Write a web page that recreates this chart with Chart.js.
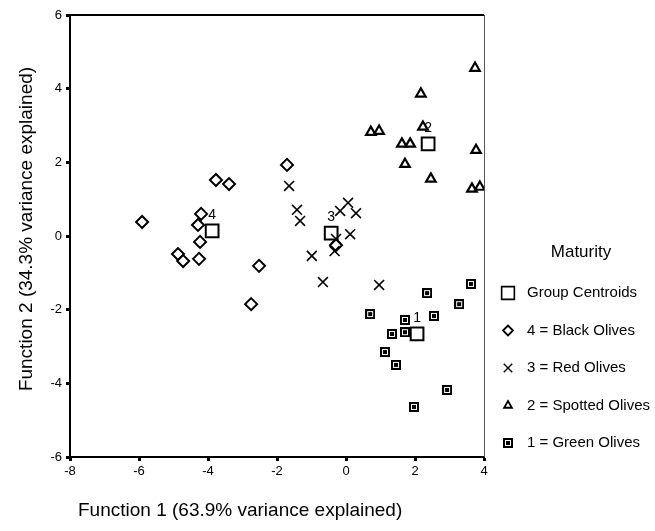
<!DOCTYPE html>
<html>
<head>
<meta charset="utf-8">
<script src="https://cdn.jsdelivr.net/npm/chart.js@4/dist/chart.umd.min.js"></script>
<style>
  body { margin: 0; background: #fff; }
  #wrap { width: 655px; height: 531px; position: relative; }
</style>
</head>
<body>
<div id="wrap"><canvas id="olive-chart"></canvas></div>
<script>
// Discriminant function scores
const greenX = [3.62, 2.35, 3.28, 0.70, 2.55, 1.71, 1.71, 1.33, 1.13, 1.45, 2.93, 1.97]
const greenY = [-1.30, -1.55, -1.85, -2.12, -2.17, -2.28, -2.61, -2.66, -3.15, -3.50, -4.18, -4.64]
const spottedX = [3.74, 2.17, 2.23, 0.72, 0.96, 1.62, 1.86, 3.77, 1.71, 2.46, 3.65, 3.88]
const spottedY = [4.56, 3.86, 2.96, 2.82, 2.85, 2.50, 2.50, 2.33, 1.95, 1.55, 1.28, 1.33]
const redX = [-1.65, -1.42, -1.33, 0.06, -0.17, 0.29, 0.12, -0.29, -0.33, -0.99, -0.67, 0.96]
const redY = [1.36, 0.71, 0.41, 0.90, 0.68, 0.62, 0.05, -0.08, -0.41, -0.54, -1.25, -1.33]
const blackX = [-3.77, -3.39, -4.20, -4.29, -5.91, -4.23, -4.87, -4.72, -4.26, -2.52, -2.75, -1.71, -0.29]
const blackY = [1.52, 1.41, 0.60, 0.30, 0.38, -0.16, -0.49, -0.68, -0.62, -0.81, -1.85, 1.93, -0.25]
const centroidX = [2.06, 2.38, -0.43, -3.88]
const centroidY = [-2.66, 2.50, 0.08, 0.14]
const centroidLabels = ['1', '2', '3', '4']
const legendTitle = 'Maturity'
const legendLabels = ['Group Centroids', '4 = Black Olives', '3 = Red Olives', '2 = Spotted Olives', '1 = Green Olives']

const FONT = "'Liberation Sans', Arial, sans-serif"

const pts = (xs, ys) => xs.map((x, i) => ({ x, y: ys[i] }))

// filled square with a box-x, like the SPSS green marker
function greenMarker() {
  const c = document.createElement('canvas')
  c.width = 10
  c.height = 10
  const g = c.getContext('2d')
  g.fillStyle = '#000'
  g.fillRect(0, 0, 10, 10)
  g.strokeStyle = '#fff'
  g.lineWidth = 1
  g.strokeRect(2.5, 2.5, 5, 5)
  g.strokeStyle = '#000'
  g.beginPath()
  g.moveTo(3, 3); g.lineTo(7, 7)
  g.moveTo(7, 3); g.lineTo(3, 7)
  g.stroke()
  return c
}
const greenImg = greenMarker()

const legendMarks = [
  { pointStyle: 'rect', radius: 9, borderWidth: 1.6, fill: '#fff' },
  { pointStyle: 'rectRot', radius: 5, borderWidth: 1.8, fill: '#fff' },
  { pointStyle: 'crossRot', radius: 6, borderWidth: 1.4, fill: '#fff' },
  { pointStyle: 'triangle', radius: 4.5, borderWidth: 1.8, fill: '#fff' },
  { pointStyle: greenImg, radius: 5, borderWidth: 0, fill: '#000' },
]

const decorations = {
  id: 'decorations',
  afterDraw(chart) {
    const { ctx, chartArea: a, scales } = chart
    ctx.save()
    // top and right frame lines
    ctx.strokeStyle = '#000'
    ctx.lineWidth = 2
    ctx.beginPath()
    ctx.moveTo(a.left, a.top)
    ctx.lineTo(a.right, a.top)
    ctx.stroke()
    ctx.strokeStyle = '#555'
    ctx.lineWidth = 1
    ctx.beginPath()
    ctx.moveTo(a.right + 0.5, a.top)
    ctx.lineTo(a.right + 0.5, a.bottom)
    ctx.stroke()

    // centroid numbers
    ctx.fillStyle = '#000'
    ctx.font = `14px ${FONT}`
    ctx.textAlign = 'center'
    ctx.textBaseline = 'middle'
    centroidLabels.forEach((t, i) => {
      const px = scales.x.getPixelForValue(centroidX[i])
      const py = scales.y.getPixelForValue(centroidY[i])
      ctx.fillText(t, px, py - 16)
    })

    // axis titles
    ctx.font = `19px ${FONT}`
    ctx.textAlign = 'left'
    ctx.fillText('Function 1 (63.9% variance explained)', 78, 511)
    ctx.save()
    ctx.translate(27, 229)
    ctx.rotate(-Math.PI / 2)
    ctx.textAlign = 'center'
    ctx.fillText('Function 2 (34.3% variance explained)', 0, 0)
    ctx.restore()

    // legend
    ctx.font = `17px ${FONT}`
    ctx.textAlign = 'center'
    ctx.fillText(legendTitle, 581, 252)
    ctx.font = `15px ${FONT}`
    ctx.textAlign = 'left'
    legendLabels.forEach((t, i) => {
      const y = 293 + i * 37.5
      const m = legendMarks[i]
      ctx.fillStyle = m.fill
      ctx.strokeStyle = '#000'
      ctx.lineWidth = m.borderWidth
      Chart.helpers.drawPoint(ctx, { pointStyle: m.pointStyle, radius: m.radius, borderWidth: m.borderWidth, rotation: 0 }, 508, y)
      ctx.fillStyle = '#000'
      ctx.fillText(t, 527, y)
    })
    ctx.restore()
  },
}

const ctx = document.getElementById('olive-chart').getContext('2d')

new Chart(ctx, {
  type: 'scatter',
  data: {
    datasets: [
      {
        label: '1 = Green Olives',
        data: pts(greenX, greenY),
        pointStyle: greenImg,
        pointRadius: 5,
      },
      {
        label: '2 = Spotted Olives',
        data: pts(spottedX, spottedY),
        pointStyle: 'triangle',
        pointRadius: 5.5,
        borderWidth: 2.2,
        borderColor: '#000',
        backgroundColor: '#fff',
      },
      {
        label: '3 = Red Olives',
        data: pts(redX, redY),
        pointStyle: 'crossRot',
        pointRadius: 7,
        borderWidth: 1.6,
        borderColor: '#000',
        backgroundColor: '#fff',
      },
      {
        label: '4 = Black Olives',
        data: pts(blackX, blackY),
        pointStyle: 'rectRot',
        pointRadius: 6,
        borderWidth: 2,
        borderColor: '#000',
        backgroundColor: '#fff',
      },
      {
        label: 'Group Centroids',
        data: pts(centroidX, centroidY),
        pointStyle: 'rect',
        pointRadius: 9,
        borderWidth: 2,
        borderColor: '#000',
        backgroundColor: '#fff',
      },
    ],
  },
  options: {
    responsive: true,
    maintainAspectRatio: false,
    animation: false,
    layout: { padding: { top: 15, right: 171, left: 0, bottom: 0 } },
    scales: {
      x: {
        type: 'linear',
        min: -8,
        max: 4,
        afterFit: (s) => { s.height = 74 },
        ticks: { stepSize: 2, color: '#000', font: { family: FONT, size: 13 }, padding: 3 },
        grid: { drawOnChartArea: false, tickLength: 4, tickWidth: 3, tickColor: '#000' },
        border: { color: '#000', width: 2 },
      },
      y: {
        type: 'linear',
        min: -6,
        max: 6,
        afterFit: (s) => { s.width = 70 },
        ticks: { stepSize: 2, color: '#000', font: { family: FONT, size: 13 }, padding: 4 },
        grid: { drawOnChartArea: false, tickLength: 4, tickWidth: 3, tickColor: '#000' },
        border: { color: '#000', width: 2 },
      },
    },
    plugins: {
      legend: { display: false },
      tooltip: { enabled: false },
    },
  },
  plugins: [decorations],
})
</script>
</body>
</html>
